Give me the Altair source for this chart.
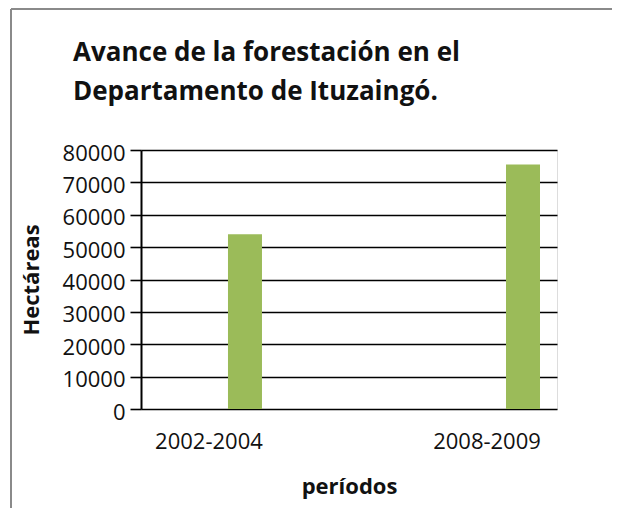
import altair as alt
import pandas as pd

categories = ["2002-2004", "2008-2009"]
hectareas = [54000, 75500]
y_ticks = [0, 10000, 20000, 30000, 40000, 50000, 60000, 70000, 80000]
title_lines = ["Avance de la forestación en el", "Departamento de Ituzaingó."]

df = pd.DataFrame({"periodo": categories, "hectareas": hectareas})
FONT = "Open Sans"

bars = alt.Chart(df).mark_bar(color="#9BBB59").encode(
    x=alt.X(
        "periodo:N",
        sort=categories,
        scale=alt.Scale(paddingInner=0.8777, paddingOuter=0.187, align=0.8365),
        axis=alt.Axis(
            title="períodos",
            labelAngle=0,
            labelOffset=-36,
            labelPadding=22,
            labelFontSize=22,
            labelFont=FONT,
            labelColor="#111111",
            domain=False,
            ticks=False,
            titleFont=FONT,
            titleFontSize=22,
            titleFontWeight="bold",
            titleColor="#111111",
            titleBaseline="alphabetic",
            titleX=208,
            titleY=84,
            titleAnchor="middle",
        ),
    ),
    y=alt.Y(
        "hectareas:Q",
        scale=alt.Scale(domain=[0, 80000], nice=False),
        axis=alt.Axis(
            title="Hectáreas",
            values=y_ticks,
            format="d",
            grid=True,
            gridColor="#000000",
            gridWidth=1.6,
            gridOpacity=1,
            domainColor="#000000",
            domainWidth=2,
            tickColor="#000000",
            tickWidth=1.6,
            tickSize=11,
            labelPadding=5,
            labelFontSize=22,
            labelFont=FONT,
            labelColor="#111111",
            labelOffset=3,
            titleFont=FONT,
            titleFontSize=22,
            titleFontWeight="bold",
            titleColor="#111111",
            titleBaseline="alphabetic",
            titleX=-103,
            titleY=129.5,
            titleAnchor="middle",
        ),
    ),
)

one = pd.DataFrame({"k": [0]})
top_line = alt.Chart(one).mark_rule(color="#8a8a8a", strokeWidth=2).encode(
    x=alt.value(-130), x2=alt.value(500), y=alt.value(-141)
)
left_line = alt.Chart(one).mark_rule(color="#8a8a8a", strokeWidth=2).encode(
    x=alt.value(-130), y=alt.value(-141), y2=alt.value(380)
)

title_style = dict(
    align="left", baseline="alphabetic", font=FONT, fontSize=26,
    fontWeight="bold", color="#111111",
)
title1 = alt.Chart(one).mark_text(text=title_lines[0], **title_style).encode(
    x=alt.value(-68), y=alt.value(-89)
)
title2 = alt.Chart(one).mark_text(text=title_lines[1], **title_style).encode(
    x=alt.value(-68), y=alt.value(-50)
)

chart = (
    alt.layer(top_line, left_line, title1, title2, bars)
    .properties(
        width=416,
        height=259,
        autosize=alt.AutoSizeParams(type="none"),
        padding={"left": 133, "top": 142, "right": 55, "bottom": 99},
    )
    .configure_view(stroke=None)
    .configure(background="white")
)

chart.save("out.html", embed_options={"renderer": "svg", "actions": False})
